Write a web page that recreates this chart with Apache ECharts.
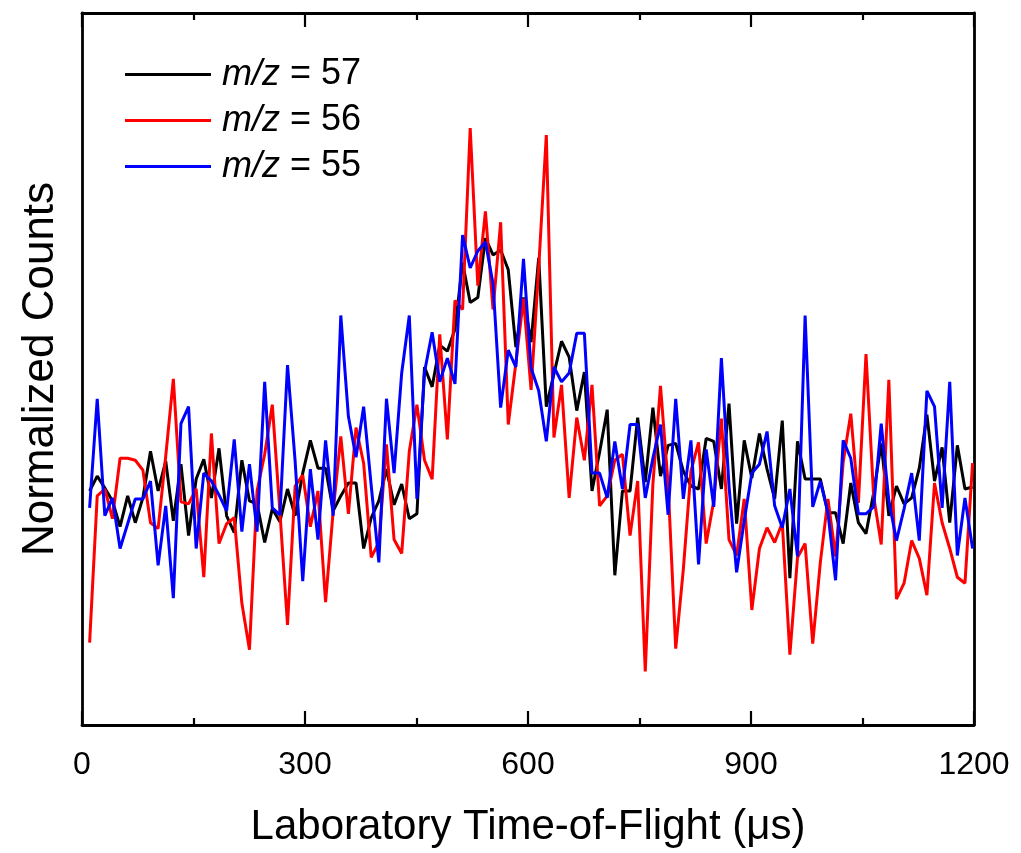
<!DOCTYPE html>
<html>
<head>
<meta charset="utf-8">
<script src="https://cdn.jsdelivr.net/npm/echarts@6/dist/echarts.min.js"></script>
<style>
html,body{margin:0;padding:0;background:#fff;}
#chart{width:1021px;height:853px;}
</style>
</head>
<body>
<div id="chart"></div>
<script>
// TOF channel width (microseconds)
const BIN_US = 10.24;
// Normalized counts (arbitrary units), one value per TOF channel
const mz57 = [236,251,239,226,200,231,204,229,276,236,266,206,263,191,248,268,229,279,211,194,
267,226,223,184,218,205,238,211,254,287,259,259,216,231,244,244,178,209,226,258,
222,243,208,213,361,341,383,377,399,466,426,431,491,474,479,459,381,431,386,471,
321,354,387,371,317,356,236,275,318,151,236,236,310,245,320,251,282,284,256,241,
238,289,286,238,324,203,287,249,294,258,228,307,148,286,248,248,248,214,214,183,
244,204,193,234,284,211,241,223,229,259,313,246,280,204,282,238,240];
const mz56 = [83,231,238,208,269,269,267,257,204,198,271,349,225,223,238,149,294,183,203,209,
123,76,236,273,323,215,101,241,252,200,236,124,216,291,213,300,264,169,184,283,
187,173,276,323,267,248,394,288,428,419,602,443,518,419,507,303,365,430,338,461,
595,290,343,229,310,267,343,221,231,267,273,191,246,54,243,342,243,77,157,256,
285,183,226,309,187,171,228,116,178,199,184,204,71,169,183,82,164,228,170,265,
314,224,374,231,182,348,127,143,186,168,131,244,204,178,149,143,264];
const mz55 = [219,329,211,229,178,203,228,228,246,161,221,128,304,321,178,254,246,232,216,288,
195,263,195,346,219,212,363,266,145,258,187,287,211,413,311,270,321,241,164,329,
254,355,413,228,356,396,346,370,344,494,461,478,487,445,320,378,361,470,360,337,
286,361,346,355,395,395,254,254,229,286,238,303,303,229,269,303,212,329,228,287,
162,278,220,370,241,154,206,254,263,296,221,199,238,170,413,220,246,214,146,287,
269,213,213,220,304,226,186,218,254,186,337,321,219,346,171,229,178];
const seriesNames = ['m/z = 57', 'm/z = 56', 'm/z = 55'];
const seriesColors = ['#000000', '#ff0000', '#0000ff'];
const xTicks = [0, 300, 600, 900, 1200];

const tof = mz57.map((_, i) => +((i + 1) * BIN_US).toFixed(2));
const pairs = arr => arr.map((v, i) => [tof[i], v]);

const FONT = '"Liberation Sans", Arial, sans-serif';
const chart = echarts.init(document.getElementById('chart'));
const axisLine = {show: true, onZero: false, lineStyle: {color: '#000', width: 2.8}};
const tickStyle = {color: '#000', width: 2.2};

chart.setOption({
  animation: false,
  grid: {left: 82, right: 47, top: 13, bottom: 121},
  legend: {
    orient: 'vertical', left: 120, top: 51,
    icon: 'rect', itemWidth: 86, itemHeight: 3, itemGap: 9,
    textStyle: {fontFamily: FONT, fontSize: 36, color: '#000', lineHeight: 37,
      padding: [0, 0, 0, 6],
      rich: {i: {fontFamily: FONT, fontSize: 36, fontStyle: 'italic', color: '#000'}}},
    formatter: name => name.replace('m/z', '{i|m/z}'),
    data: seriesNames
  },
  xAxis: [{
    type: 'value', min: xTicks[0], max: xTicks[xTicks.length - 1], interval: 300,
    position: 'bottom',
    name: 'Laboratory Time-of-Flight (\u03bcs)', nameLocation: 'middle', nameGap: 81,
    nameTextStyle: {fontFamily: FONT, fontSize: 42, color: '#000'},
    axisLine: axisLine,
    axisTick: {show: true, inside: true, length: 14, lineStyle: tickStyle},
    minorTick: {show: true, splitNumber: 2, length: 7, lineStyle: tickStyle},
    axisLabel: {fontFamily: FONT, fontSize: 32, color: '#000', margin: 24,
      formatter: v => String(v)},
    splitLine: {show: false}
  }, {
    type: 'value', min: xTicks[0], max: xTicks[xTicks.length - 1], interval: 300,
    position: 'top',
    axisLine: axisLine,
    axisTick: {show: true, inside: true, length: 14, lineStyle: tickStyle},
    minorTick: {show: true, splitNumber: 2, length: 7, lineStyle: tickStyle},
    axisLabel: {show: false},
    splitLine: {show: false}
  }],
  yAxis: [{
    type: 'value', min: 0, max: 718, position: 'left',
    name: 'Normalized Counts', nameLocation: 'middle', nameGap: 19,
    nameTextStyle: {fontFamily: FONT, fontSize: 44, color: '#000'},
    axisLine: axisLine, axisTick: {show: false}, axisLabel: {show: false},
    splitLine: {show: false}
  }, {
    type: 'value', min: 0, max: 718, position: 'right',
    axisLine: axisLine, axisTick: {show: false}, axisLabel: {show: false},
    splitLine: {show: false}
  }],
  series: [mz57, mz56, mz55].map((arr, k) => ({
    name: seriesNames[k], type: 'line', data: pairs(arr),
    symbol: 'none', clip: true,
    lineStyle: {color: seriesColors[k], width: 3},
    itemStyle: {color: seriesColors[k]},
    z: 2 + k
  }))
});
</script>
</body>
</html>
